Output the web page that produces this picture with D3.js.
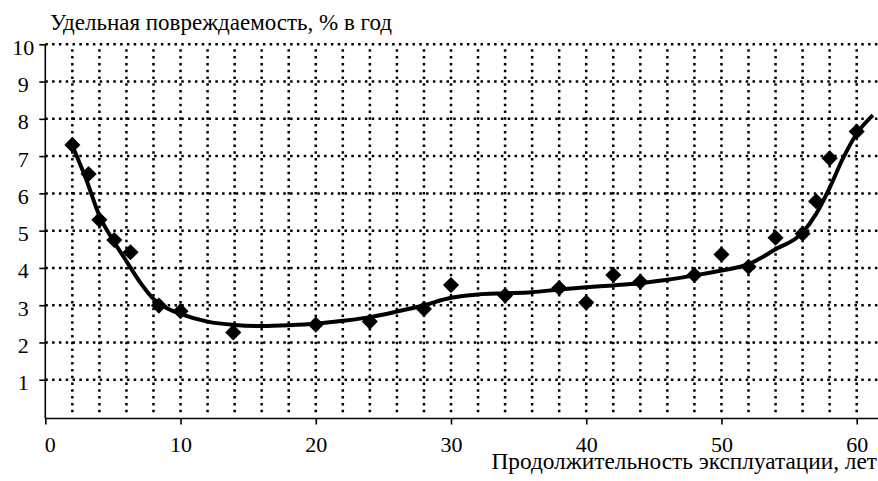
<!DOCTYPE html>
<html><head><meta charset="utf-8">
<script src="https://cdn.jsdelivr.net/npm/d3@7"></script>
<style>
html,body{margin:0;padding:0;background:#fff;}
svg{display:block;}
</style></head>
<body><svg id="c" width="878" height="481"></svg>
<script>
// ---- data ----
const pointsX = [2, 3.2, 4.0, 5.1, 6.3, 8.4, 10.0, 13.9, 20, 24, 28, 30, 34, 38, 40, 42, 44, 48, 50, 52, 54, 56, 57, 58, 60];
const pointsY = [7.30, 6.52, 5.29, 4.75, 4.42, 2.99, 2.84, 2.27, 2.48, 2.56, 2.90, 3.54, 3.26, 3.46, 3.07, 3.81, 3.63, 3.81, 4.36, 4.03, 4.81, 4.92, 5.79, 6.94, 7.66];
const trendX = [2, 3, 4, 5, 6, 7, 8, 9, 10, 12, 14, 16, 18, 20, 22, 24, 26, 28, 30, 32, 34, 36, 38, 40, 42, 44, 46, 48, 50, 52, 54, 56, 57, 58, 59, 60, 61.2];
const trendY = [7.28, 6.40, 5.40, 4.75, 4.18, 3.62, 3.17, 2.92, 2.77, 2.56, 2.47, 2.44, 2.46, 2.50, 2.58, 2.68, 2.83, 3.00, 3.20, 3.29, 3.32, 3.35, 3.42, 3.48, 3.53, 3.59, 3.68, 3.80, 3.93, 4.10, 4.50, 4.95, 5.45, 6.15, 6.95, 7.60, 8.10];
const xTicks = [0, 10, 20, 30, 40, 50, 60];
const yTicks = [1, 2, 3, 4, 5, 6, 7, 8, 9, 10];
const xGrid = d3.range(2, 61, 2);
const yTitle = "Удельная повреждаемость, % в год";
const xTitle = "Продолжительность эксплуатации, лет";

// ---- chart ----
const FONT = "Liberation Serif";
const svg = d3.select("#c");
const x = d3.scaleLinear().domain([0, 60]).range([45.3, 856.7]);
const y = d3.scaleLinear().domain([0, 10]).range([417, 44.3]);
const dotted = {w: 2.5, dash: "2.5,4.3"};

// horizontal gridlines
svg.append("g").selectAll("line").data(yTicks).join("line")
  .attr("x1", x(0)).attr("x2", 878)
  .attr("y1", d => y(d)).attr("y2", d => y(d))
  .attr("stroke", "#000").attr("stroke-width", dotted.w)
  .attr("stroke-dasharray", dotted.dash);
// vertical gridlines
svg.append("g").selectAll("line").data(xGrid).join("line")
  .attr("x1", d => x(d)).attr("x2", d => x(d))
  .attr("y1", y(10) + 5).attr("y2", 413)
  .attr("stroke", "#000").attr("stroke-width", dotted.w)
  .attr("stroke-dasharray", dotted.dash);

// axes
const xAxis = d3.axisBottom(x).tickValues(xTicks).tickSize(6).tickFormat(d3.format("d"));
const gx = svg.append("g").attr("transform", "translate(0,418.5)").call(xAxis)
  .attr("font-family", FONT).attr("font-size", 22);
gx.select(".domain").attr("d", `M${x(0)},0H878`).attr("stroke", "#000").attr("stroke-width", 1.6);
gx.selectAll(".tick line").attr("stroke", "#000").attr("stroke-width", 1.6);
gx.selectAll(".tick text").attr("y", 0).attr("dy", 33).attr("fill", "#000");
gx.selectAll(".tick text").filter(d => d === 0).attr("dx", 4.5);

const yAxis = d3.axisLeft(y).tickValues(yTicks).tickSize(6).tickFormat(d3.format("d"));
const gy = svg.append("g").attr("transform", `translate(${x(0)},0)`).call(yAxis)
  .attr("font-family", FONT).attr("font-size", 22);
gy.select(".domain").attr("d", `M0,${y(10)}V418.5`).attr("stroke", "#000").attr("stroke-width", 1.6);
gy.selectAll(".tick line").attr("stroke", "#000").attr("stroke-width", 1.6);
gy.selectAll(".tick text").attr("x", -22).attr("dy", 0).attr("y", 10)
  .attr("text-anchor", "middle").attr("fill", "#000");

// trend curve
const trend = trendX.map((v, i) => [v, trendY[i]]);
svg.append("path").datum(trend)
  .attr("d", d3.line().x(d => x(d[0])).y(d => y(d[1])).curve(d3.curveMonotoneX))
  .attr("fill", "none").attr("stroke", "#000").attr("stroke-width", 4);

// markers
const pts = pointsX.map((v, i) => [v, pointsY[i]]);
svg.append("g").selectAll("path").data(pts).join("path")
  .attr("d", d3.symbol(d3.symbolSquare, 130))
  .attr("transform", d => `translate(${x(d[0])},${y(d[1])}) rotate(45)`)
  .attr("fill", "#000");

// titles
svg.append("text").attr("x", 50).attr("y", 29.5).attr("font-size", 23)
  .attr("font-family", FONT).attr("fill", "#000").text(yTitle);
svg.append("text").attr("x", 877).attr("y", 469).attr("font-size", 23.3)
  .attr("font-family", FONT).attr("fill", "#000")
  .attr("text-anchor", "end").text(xTitle);
</script></body></html>
